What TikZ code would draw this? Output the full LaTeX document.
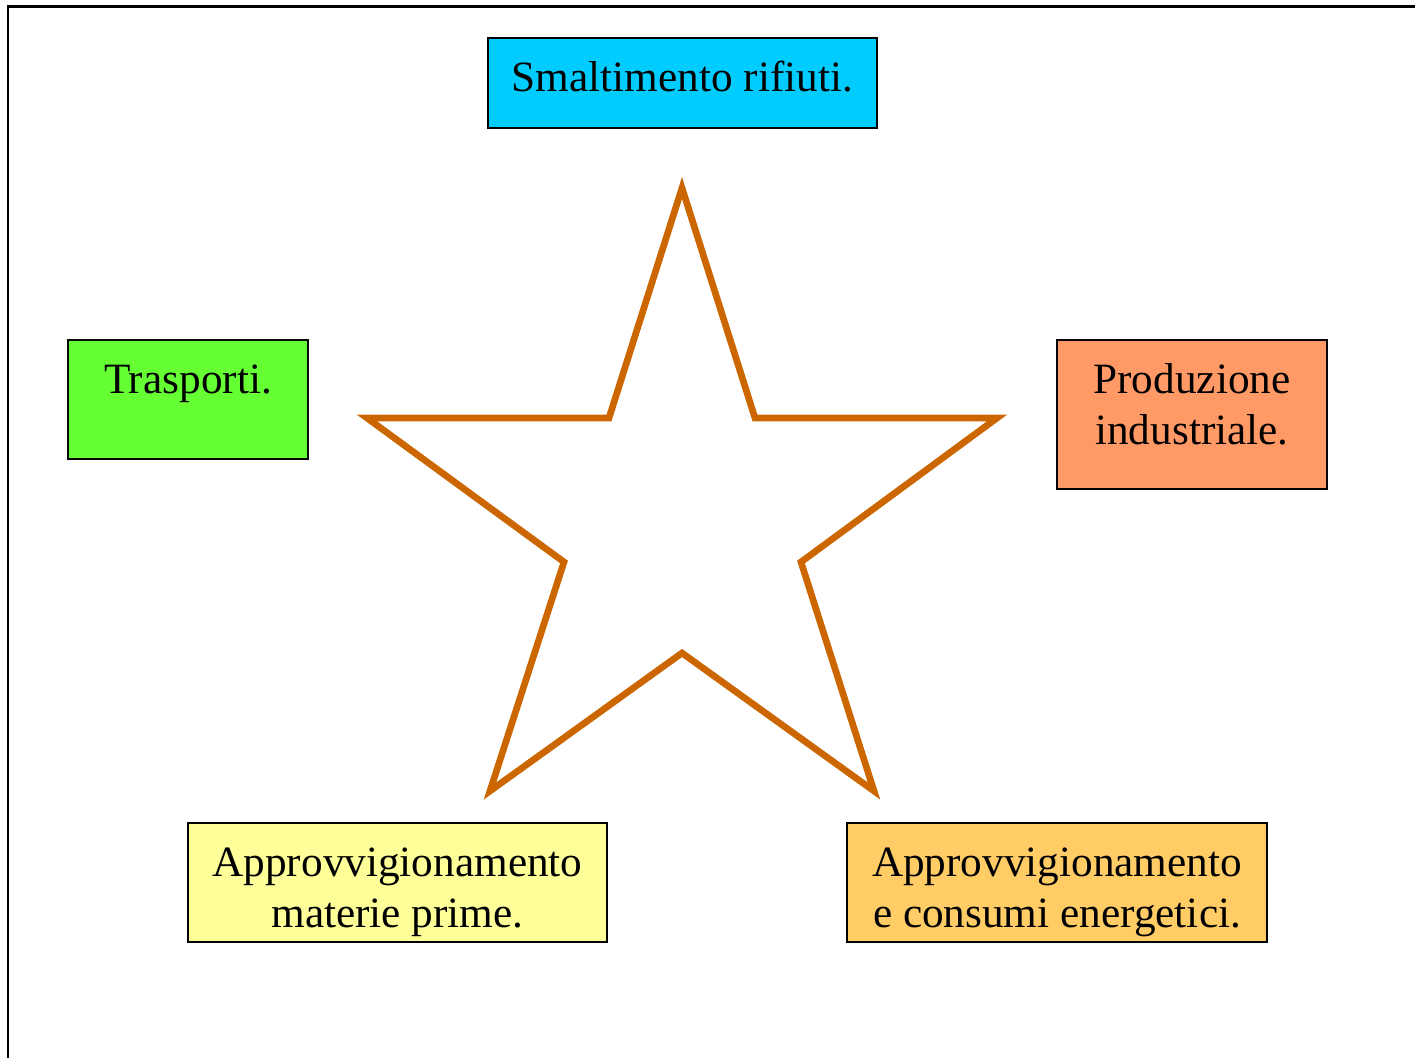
\documentclass[tikz,border=0pt]{standalone}
\usepackage{fontspec}
\setmainfont{Liberation Serif}
\definecolor{hellblau}{HTML}{00CCFF}
\definecolor{hellgruen}{HTML}{66FF33}
\definecolor{lachs}{HTML}{FF9966}
\definecolor{hellgelb}{HTML}{FFFF99}
\definecolor{hellorange}{HTML}{FFCC66}
\definecolor{sternfarbe}{HTML}{CC6600}
\begin{document}
\begin{tikzpicture}[x=0.01cm,y=-0.01cm,
  kasten/.style={draw=black, line width=0.6pt, anchor=north, align=center,
    inner sep=0pt, text height=0.53cm, font=\fontsize{12.3}{14.5}\selectfont},
  zweizeilig/.style={text height=1.04cm}]
  \useasboundingbox (0,0) rectangle (1415,1058);
  % Rahmen
  \draw[line width=0.85pt] (8,1058) -- (8,7) -- (1415,7);
  % Stern
  \draw[line width=1.9pt, color=sternfarbe] (682,188) -- (609,418) -- (367,418)
    -- (564,562) -- (490,791) -- (682,653) -- (874,791) -- (801,562)
    -- (997,418) -- (755,418) -- cycle;
  % Kaesten
  \node[kasten, fill=hellblau, minimum width=3.89cm, text depth=0.37cm] (rifiuti) at (682.5,37) {Smaltimento rifiuti.};
  \node[kasten, fill=hellgruen, minimum width=2.40cm, text depth=0.66cm] (trasporti) at (188,339) {Trasporti.};
  \node[kasten, zweizeilig, fill=lachs, minimum width=2.70cm, text depth=0.45cm] (produzione) at (1192,339) {Produzione\\industriale.};
  \node[kasten, zweizeilig, fill=hellgelb, minimum width=4.19cm, text depth=0.15cm] (materie) at (397.5,822) {Approvvigionamento\\materie prime.};
  \node[kasten, zweizeilig, fill=hellorange, minimum width=4.20cm, text depth=0.15cm] (energia) at (1057,822) {Approvvigionamento\\e consumi energetici.};
\end{tikzpicture}
\end{document}
